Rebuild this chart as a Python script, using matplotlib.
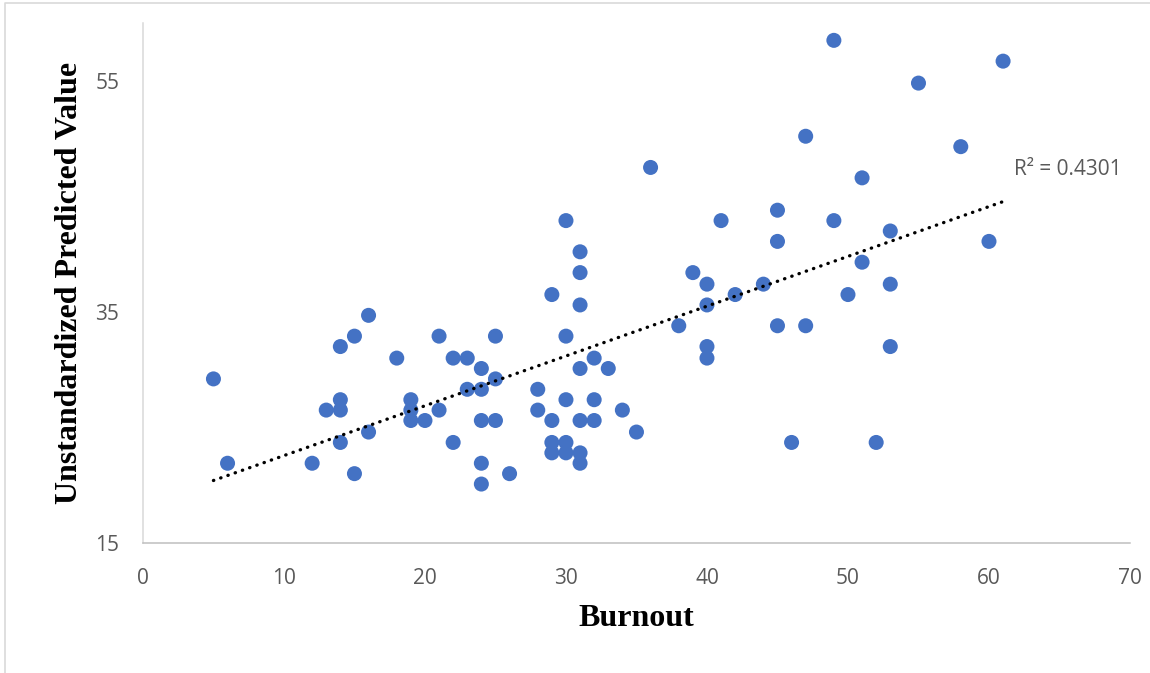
import numpy as np
import matplotlib.pyplot as plt
from matplotlib.lines import Line2D

# burnout score vs. unstandardized predicted value
burnout = [5, 6, 12, 13, 14, 14, 14, 14, 15, 15, 16, 16, 18, 19, 19, 19, 20,
           21, 21, 22, 22, 23, 23, 24, 24, 24, 24, 24, 25, 25, 25, 26, 28, 28,
           29, 29, 29, 29, 30, 30, 30, 30, 30, 31, 31, 31, 31, 31, 31, 31,
           32, 32, 32, 33, 34, 35, 36, 38, 39, 40, 40, 40, 40, 41, 42, 44,
           45, 45, 45, 46, 47, 47, 49, 49, 50, 51, 51, 52, 53, 53, 53, 55,
           58, 60, 61]
predicted = [29.2, 21.9, 21.9, 26.5, 32.0, 27.4, 26.5, 23.7, 32.9, 21.0, 34.7,
             24.6, 31.0, 27.4, 26.5, 25.6, 25.6, 32.9, 26.5, 31.0, 23.7, 31.0,
             28.3, 30.1, 28.3, 25.6, 21.9, 20.1, 32.9, 29.2, 25.6, 21.0, 28.3,
             26.5, 36.5, 25.6, 23.7, 22.8, 42.9, 32.9, 27.4, 23.7, 22.8, 40.2,
             38.4, 35.6, 30.1, 25.6, 22.8, 21.9, 31.0, 27.4, 25.6, 30.1, 26.5,
             24.6, 47.5, 33.8, 38.4, 37.4, 35.6, 32.0, 31.0, 42.9, 36.5, 37.4,
             43.8, 41.1, 33.8, 23.7, 50.2, 33.8, 58.5, 42.9, 36.5, 46.6, 39.3,
             23.7, 42.0, 37.4, 32.0, 54.8, 49.3, 41.1, 56.7]

x_ticks = [0, 10, 20, 30, 40, 50, 60, 70]
y_ticks = [15, 35, 55]
r2_label = "R\u00b2 = 0.4301"

fig = plt.figure(figsize=(11.5, 6.73), dpi=100)
ax = fig.add_axes([0.1243, 0.1932, 0.8583, 0.7726])

ax.scatter(burnout, predicted, s=117, color="#4472C4", edgecolors="none", zorder=3)

# linear trendline over the data range
xs = np.array(burnout, dtype=float)
slope, icpt = np.polyfit(xs, np.array(predicted), 1)
tx = np.array([xs.min(), xs.max()])
ax.plot(tx, slope * tx + icpt, color="black", lw=2.4,
        linestyle=(0, (0.1, 2.2)), dash_capstyle="round", zorder=4)

ax.text(61.8, 47.3, r2_label, ha="left", va="center", fontsize=15,
        color="#595959", family="Open Sans")

ax.set_xlim(0, 70)
ax.set_ylim(15, 60)
ax.set_xticks(x_ticks)
ax.set_yticks(y_ticks)
ax.tick_params(length=0, labelsize=15, labelcolor="#595959")
ax.tick_params(axis="x", pad=18)
ax.tick_params(axis="y", pad=17)
for lab in ax.get_xticklabels() + ax.get_yticklabels():
    lab.set_family("Open Sans")

for s in ["top", "right"]:
    ax.spines[s].set_visible(False)
ax.spines["left"].set_color("#D9D9D9")
ax.spines["bottom"].set_color("#BFBFBF")
ax.spines["left"].set_linewidth(1.1)
ax.spines["bottom"].set_linewidth(1.1)

ax.set_xlabel("Burnout", fontsize=23, fontweight="bold",
              family="Liberation Serif", labelpad=11)
ax.set_ylabel("Unstandardized Predicted Value", fontsize=23, fontweight="bold",
              family="Liberation Serif", labelpad=8)

# chart area border (left and top edges visible)
fig.add_artist(Line2D([5 / 1150, 5 / 1150, 1.0], [0.0, 1 - 3 / 673, 1 - 3 / 673],
                      transform=fig.transFigure, color="#D9D9D9", lw=1.2))

fig.savefig("out.png", dpi=100)
